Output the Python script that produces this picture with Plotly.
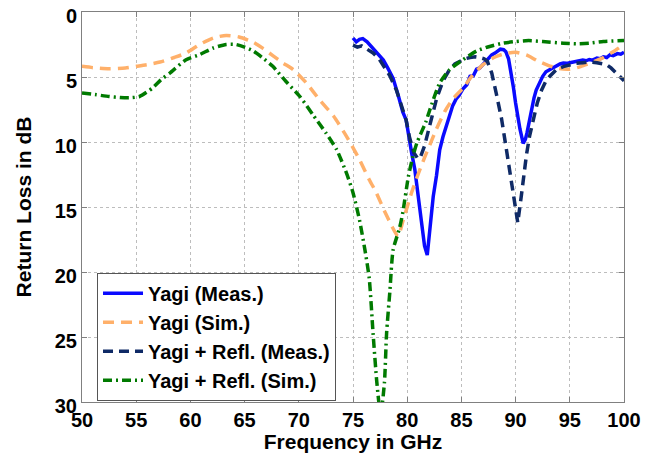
import plotly.graph_objects as go

# ---- Data ----
yagi_meas_f = [75.0, 75.3, 75.6, 75.9, 76.3, 76.85, 77.3, 77.8, 78.2, 78.7, 79.2, 79.6, 79.9, 80.2, 80.4,
               80.7, 81.0, 81.3, 81.6, 81.85, 82.1, 82.4, 82.7, 83.0, 83.3, 83.6, 83.9, 84.2, 84.5, 84.8,
               85.15, 85.5, 85.8, 86.1, 86.4, 86.7, 87.0, 87.45, 87.8, 88.1, 88.4, 88.6, 88.9, 89.1, 89.35,
               89.6, 89.8, 90.0, 90.2, 90.4, 90.7, 90.9, 91.05, 91.25, 91.45, 91.7, 91.9, 92.2, 92.5, 92.8,
               93.2, 93.5, 93.8, 94.1, 94.4, 94.7, 95.0, 95.3, 95.6, 95.9, 96.2, 96.5, 96.8, 97.1, 97.5,
               97.8, 98.1, 98.4, 98.7, 99.0, 99.4, 99.7, 100.0]
yagi_meas_db = [2.0, 2.3, 2.1, 2.05, 2.3, 2.8, 3.2, 3.7, 4.3, 5.1, 6.5, 7.7, 8.3, 10.0, 10.8,
                12.1, 14.2, 15.8, 18.0, 18.7, 16.5, 14.2, 12.6, 10.6, 9.6, 8.7, 8.0, 7.2, 6.7, 6.4,
                5.9, 5.6, 4.95, 4.9, 4.4, 4.3, 4.0, 3.55, 3.3, 3.16, 2.95, 2.86, 2.9, 3.05, 3.6,
                4.7, 5.8, 7.0, 8.1, 9.0, 10.1, 9.8, 9.3, 8.4, 7.5, 6.6, 6.0, 5.4, 4.95, 4.6,
                4.4, 4.25, 4.15, 4.0, 3.93, 3.95, 3.9, 3.85, 3.8, 3.75, 3.7, 3.75, 3.65, 3.7, 3.55,
                3.6, 3.45, 3.5, 3.3, 3.35, 3.2, 3.25, 3.1]

yagi_sim_f = [50, 51, 52.5, 54, 55, 56, 57.2, 58.5, 59.6, 60.85, 62.1, 63.3, 64.5, 65.8, 66.7, 67.6,
              68.5, 69.5, 70.7, 71.9, 73.2, 74.4, 75.6, 76.5, 77.15, 77.9, 78.6, 79.15, 79.6, 80.4,
              81.0, 81.6, 82.1, 82.7, 83.5, 84.2, 85.15, 86.0, 87.0, 88.0, 89.0, 90.0, 91.0, 92.0,
              93.0, 94.0, 95.0, 96.0, 97.0, 98.0, 99.0, 100.0]
yagi_sim_db = [4.18, 4.28, 4.36, 4.3, 4.18, 4.05, 3.85, 3.5, 3.16, 2.5, 2.0, 1.8, 1.92, 2.33, 2.8, 3.35,
               3.9, 4.44, 5.46, 6.74, 8.0, 9.56, 11.36, 12.9, 13.9, 15.3, 16.5, 17.25, 16.1, 13.9,
               12.5, 11.2, 10.2, 9.0, 7.6, 6.7, 5.85, 4.9, 4.05, 3.5, 3.2, 3.1, 3.3, 3.75,
               4.1, 4.35, 4.4, 4.2, 3.9, 3.55, 3.05, 2.5]

refl_meas_f = [75.0, 75.4, 75.8, 76.3, 76.85, 77.4, 77.9, 78.4, 79.0, 79.6, 79.9, 80.2, 80.6, 81.0,
               81.2, 81.6, 82.1, 82.7, 83.3, 83.9, 84.4, 84.85, 85.3, 85.8, 86.3, 86.7, 87.1, 87.4,
               87.8, 88.2, 88.7, 89.1, 89.4, 89.8, 90.2, 90.55, 90.8, 91.0, 91.3, 91.6, 92.0, 92.4,
               92.8, 93.2, 93.8, 94.4, 95.0, 95.6, 96.2, 96.8, 97.5, 98.0, 98.4, 98.8, 99.2, 99.6, 100.0]
refl_meas_db = [2.55, 2.7, 2.6, 2.9, 3.15, 3.6, 4.2, 4.9, 6.0, 7.6, 8.3, 9.6, 10.8, 11.3,
                11.2, 10.3, 8.6, 6.7, 5.3, 4.44, 4.0, 3.8, 3.6, 3.5, 3.45, 3.5, 3.6, 3.8,
                4.7, 6.2, 8.2, 10.3, 12.0, 14.0, 16.2, 14.0, 12.3, 11.0, 9.5, 8.3, 7.0, 6.0,
                5.3, 4.9, 4.4, 4.2, 4.05, 3.95, 3.9, 3.85, 3.9, 3.95, 4.05, 4.3, 4.6, 4.95, 5.3]

refl_sim_f = [50, 51.2, 52.5, 53.5, 54.4, 55.3, 56.5, 57.3, 58.1, 59.6, 60.85, 62.1, 63.3, 64.2, 65.0,
              65.8, 66.7, 67.6, 68.8, 70.1, 71.3, 72.5, 73.5, 74.4, 75.0, 75.6, 76.1, 76.5, 76.85,
              77.2, 77.55, 77.9, 78.1, 78.4, 78.7, 79.3, 79.6, 80.1, 80.5, 80.9, 81.7, 82.1, 83.0,
              83.9, 85.15, 86.4, 87.6, 88.8, 90.0, 91.2, 92.5, 94.4, 95.6, 96.8, 98.1, 100.0]
refl_sim_db = [6.23, 6.35, 6.5, 6.58, 6.6, 6.5, 5.85, 5.2, 4.7, 3.67, 3.28, 2.77, 2.5, 2.5, 2.7,
               3.0, 3.55, 4.18, 5.33, 6.5, 7.9, 9.3, 10.6, 12.4, 13.9, 16.0, 18.3, 20.5, 24.7,
               28.5, 31.0, 28.5, 24.7, 21.5, 18.3, 16.6, 15.4, 12.7, 11.2, 10.05, 8.5, 7.5, 5.46,
               4.44, 3.67, 3.0, 2.65, 2.4, 2.27, 2.2, 2.27, 2.4, 2.45, 2.4, 2.27, 2.2]

x_ticks = [50, 55, 60, 65, 70, 75, 80, 85, 90, 95, 100]
y_ticks = [0, 5, 10, 15, 20, 25, 30]

FONT = "Liberation Sans, Arial, Helvetica, sans-serif"

fig = go.Figure()
fig.add_trace(go.Scatter(x=yagi_meas_f, y=yagi_meas_db, mode="lines", name="Yagi (Meas.)",
                         line=dict(color="#0a0aff", width=3.5)))
fig.add_trace(go.Scatter(x=yagi_sim_f, y=yagi_sim_db, mode="lines", name="Yagi (Sim.)",
                         line=dict(color="#ffb06a", width=3.5, dash="11px,7px", shape="spline", smoothing=0.6)))
fig.add_trace(go.Scatter(x=refl_meas_f, y=refl_meas_db, mode="lines", name="Yagi + Refl. (Meas.)",
                         line=dict(color="#0f2a66", width=3.5, dash="10px,6px")))
fig.add_trace(go.Scatter(x=refl_sim_f, y=refl_sim_db, mode="lines", name="Yagi + Refl. (Sim.)",
                         line=dict(color="#007a00", width=3.5, dash="9px,4px,2px,4px", shape="spline", smoothing=0.6)))

axis_common = dict(
    showline=True, linecolor="#808080", linewidth=1, mirror="ticks",
    ticks="inside", ticklen=5, tickcolor="#808080",
    showgrid=True, gridcolor="#bdbdbd", griddash="dot", gridwidth=1,
    zeroline=False, automargin=False, ticklabeloverflow="allow",
    tickfont=dict(family=FONT, size=20, color="black", weight="bold"),
)

# page body has an 8px default margin: figure sized so it ends at the window edge
fig.update_layout(
    width=646, height=445,
    margin=dict(l=74, r=30, t=4, b=51),
    paper_bgcolor="white", plot_bgcolor="white",
    font=dict(family=FONT, size=20, color="black", weight="bold"),
    showlegend=True,
    legend=dict(
        x=0.0277, y=0.167, xanchor="left", yanchor="middle",
        bgcolor="white", bordercolor="#555555", borderwidth=1,
        font=dict(family=FONT, size=20, color="black", weight="bold"),
        itemwidth=40, tracegroupgap=0,
    ),
    xaxis=dict(range=[50, 100], tickvals=x_ticks,
               title=dict(text="Frequency in GHz", standoff=0,
                          font=dict(family=FONT, size=21, color="black", weight="bold")),
               **axis_common),
    yaxis=dict(range=[30, 0], tickvals=y_ticks, ticklabelshift=-4,
               title=dict(text="Return Loss in dB", standoff=17,
                          font=dict(family=FONT, size=21, color="black", weight="bold")),
               **axis_common),
)

fig.write_html("out.html")
